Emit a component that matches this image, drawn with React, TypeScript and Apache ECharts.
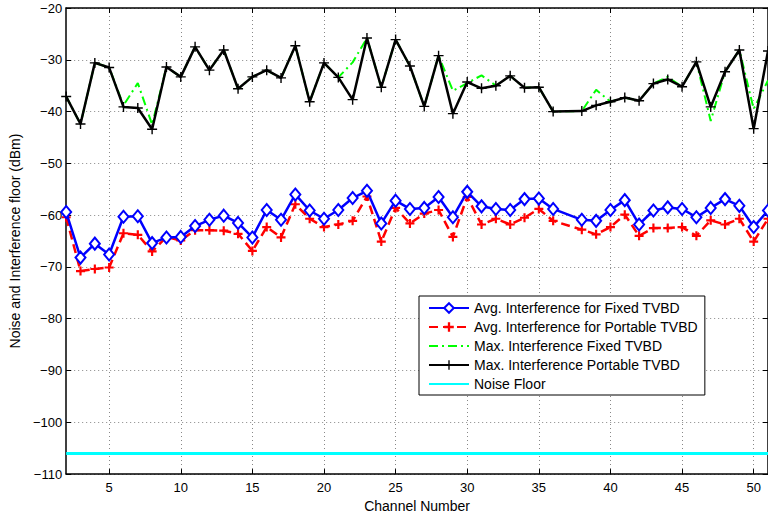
import React, { useEffect, useRef } from "react";
import * as echarts from "echarts";

const channels = [2,3,4,5,6,7,8,9,10,11,12,13,14,15,16,17,18,19,20,21,22,23,24,25,26,27,28,29,30,31,32,33,34,35,36,38,39,40,41,42,43,44,45,46,47,48,49,50,51];

const avgFixed = [-59.4,-68.2,-65.5,-67.6,-60.3,-60.2,-65.4,-64.3,-64.2,-62.1,-60.9,-60.1,-61.5,-64.3,-59.0,-60.9,-56.0,-59.1,-60.7,-59.0,-56.7,-55.3,-61.6,-57.2,-58.8,-58.6,-56.5,-60.4,-55.5,-58.3,-58.8,-59.0,-56.9,-56.8,-58.8,-60.9,-61.1,-59.0,-57.1,-61.8,-59.1,-58.5,-58.8,-60.4,-58.6,-56.9,-58.2,-62.3,-59.1];

const avgPortable = [-60.4,-70.8,-70.4,-70.1,-63.5,-63.8,-67.0,-64.2,-64.9,-62.9,-62.9,-63.0,-63.6,-66.9,-62.3,-64.3,-57.9,-60.7,-62.3,-61.8,-61.1,-56.4,-65.1,-58.6,-61.6,-59.7,-59.0,-64.2,-56.5,-61.8,-60.7,-61.8,-60.5,-58.8,-61.1,-62.8,-63.7,-62.3,-59.9,-64.0,-62.5,-62.5,-62.3,-64.0,-61.0,-61.8,-60.7,-65.1,-60.7];

const maxFixed = [-37.1,-42.4,-30.6,-31.5,-38.8,-34.5,-42.5,-31.4,-33.3,-27.5,-32.0,-28.1,-35.6,-33.3,-32.0,-33.5,-27.3,-38.1,-30.6,-33.4,-30.5,-25.8,-35.3,-26.1,-31.2,-39.0,-29.2,-36.0,-34.5,-33.0,-35.0,-33.1,-35.4,-35.3,-40.0,-39.9,-35.8,-38.1,-37.3,-37.9,-34.6,-33.3,-35.2,-30.4,-41.8,-32.3,-28.1,-39.5,-34.0];

const maxPortable = [-37.1,-42.4,-30.6,-31.5,-39.1,-39.3,-43.4,-31.4,-33.3,-27.5,-32.0,-28.1,-35.6,-33.3,-32.0,-33.5,-27.3,-38.1,-30.6,-33.4,-37.7,-25.8,-35.3,-26.1,-31.2,-39.0,-29.2,-40.4,-34.3,-35.5,-35.0,-33.1,-35.4,-35.3,-40.0,-39.9,-38.8,-38.1,-37.3,-37.9,-34.6,-33.8,-35.2,-30.4,-39.1,-32.3,-28.1,-43.3,-28.3];

const noiseFloorChannels = [2, 51];
const noiseFloorValues = [-106, -106];

const xTicks = [5, 10, 15, 20, 25, 30, 35, 40, 45, 50];

const seriesNames = [
  "Avg. Interference for Fixed TVBD",
  "Avg. Interference for Portable TVBD",
  "Max. Interference Fixed TVBD",
  "Max. Interference Portable TVBD",
  "Noise Floor",
];

const pair = (xs: number[], ys: number[]) => xs.map((x, i) => [x, ys[i]]);

const boldPlus = "path://M-1.2,-5h2.4v3.8h3.8v2.4h-3.8v3.8h-2.4v-3.8h-3.8v-2.4h3.8z";
const thinPlus = "path://M-0.7,-5h1.4v4.3h4.3v1.4h-4.3v4.3h-1.4v-4.3h-4.3v-1.4h4.3z";

const FONT = "Liberation Sans, Arial, Helvetica, sans-serif";
const minusFmt = (v: number) => String(v).replace("-", "\u2212");

export default function App() {
  const ref = useRef<HTMLDivElement>(null);
  useEffect(() => {
    if (!ref.current) return;
    const chart = echarts.init(ref.current, null, { renderer: "svg" });
    const gridLine = { show: true, lineStyle: { color: "#888", type: [1, 3] as any, width: 1 } };
    const axisLine = { show: true, onZero: false, lineStyle: { color: "#000", width: 1.5 } };
    const tick = { show: true, inside: true, length: 5, lineStyle: { color: "#000", width: 1 } };
    const noSymbol = { color: "rgba(0,0,0,0)", borderWidth: 0, opacity: 0 };
    chart.setOption({
      animation: false,
      backgroundColor: "#fff",
      textStyle: { fontFamily: FONT },
      grid: { left: 61, right: 0, top: 8, bottom: 35, containLabel: false },
      legend: {
        orient: "vertical",
        left: 419,
        top: 296,
        backgroundColor: "#fff",
        borderColor: "#000",
        borderWidth: 1,
        padding: [5, 7, 4, 9],
        itemGap: 5,
        itemWidth: 40,
        itemHeight: 12,
        textStyle: { fontFamily: FONT, fontSize: 14, color: "#000" },
        data: [
          { name: seriesNames[0] },
          { name: seriesNames[1] },
          { name: seriesNames[2], itemStyle: noSymbol },
          { name: seriesNames[3] },
          { name: seriesNames[4], itemStyle: noSymbol },
        ],
      },
      xAxis: [
        {
          type: "value",
          min: 2,
          max: 51,
          position: "bottom",
          axisLine,
          axisTick: { ...tick, customValues: xTicks },
          axisLabel: { customValues: xTicks, color: "#000", fontSize: 13, fontFamily: FONT, margin: 7 },
          splitLine: gridLine,
          name: "Channel Number",
          nameLocation: "middle",
          nameGap: 21,
          nameTextStyle: { color: "#000", fontSize: 14, fontFamily: FONT },
        },
        {
          type: "value",
          min: 2,
          max: 51,
          position: "top",
          axisLine,
          axisTick: { ...tick, customValues: xTicks },
          axisLabel: { show: false, customValues: xTicks },
          splitLine: { show: false },
        },
      ],
      yAxis: [
        {
          type: "value",
          min: -110,
          max: -20,
          interval: 10,
          position: "left",
          axisLine,
          axisTick: tick,
          axisLabel: { color: "#000", fontSize: 13, fontFamily: FONT, margin: 4, formatter: minusFmt },
          splitLine: gridLine,
          name: "Noise and Interference floor (dBm)",
          nameLocation: "middle",
          nameGap: 37,
          nameTextStyle: { color: "#000", fontSize: 14, fontFamily: FONT },
        },
        {
          type: "value",
          min: -110,
          max: -20,
          interval: 10,
          position: "right",
          axisLine,
          axisTick: tick,
          axisLabel: { show: false },
          splitLine: { show: false },
        },
      ],
      series: [
        {
          name: seriesNames[0],
          type: "line",
          data: pair(channels, avgFixed),
          symbol: "emptyDiamond",
          symbolSize: [10, 12],
          lineStyle: { color: "#0000ff", width: 2.5 },
          itemStyle: { color: "#0000ff", borderColor: "#0000ff", borderWidth: 2 },
          z: 3,
        },
        {
          name: seriesNames[1],
          type: "line",
          data: pair(channels, avgPortable),
          symbol: boldPlus,
          symbolSize: 9,
          lineStyle: { color: "#ff0000", width: 2.5, type: [9, 5] },
          itemStyle: { color: "#ff0000" },
          z: 2,
        },
        {
          name: seriesNames[2],
          type: "line",
          data: pair(channels, maxFixed),
          symbol: "none",
          lineStyle: { color: "#00ff00", width: 2, type: [9, 4, 2, 4] },
          itemStyle: { color: "#00ff00" },
          z: 2,
        },
        {
          name: seriesNames[3],
          type: "line",
          data: pair(channels, maxPortable),
          symbol: thinPlus,
          symbolSize: 10,
          lineStyle: { color: "#000000", width: 2.5 },
          itemStyle: { color: "#000000" },
          z: 3,
        },
        {
          name: seriesNames[4],
          type: "line",
          data: pair(noiseFloorChannels, noiseFloorValues),
          symbol: "none",
          lineStyle: { color: "#00ffff", width: 3 },
          itemStyle: { color: "#00ffff" },
          z: 2,
        },
      ],
    });
    return () => chart.dispose();
  }, []);
  return (
    <div
      ref={ref}
      style={{ position: "fixed", left: 0, top: 0, width: 768, height: 518, background: "#fff" }}
    />
  );
}
